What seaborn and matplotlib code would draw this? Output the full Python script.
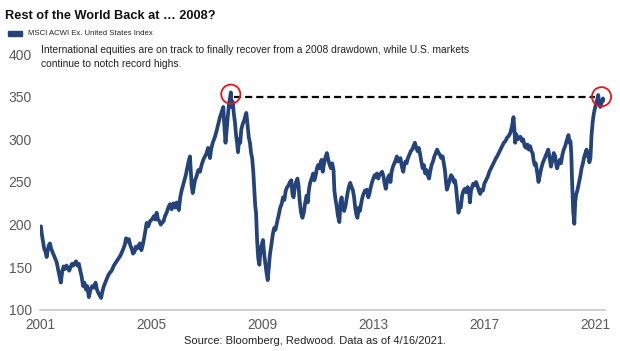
import matplotlib
matplotlib.use('Agg')
import matplotlib.pyplot as plt
import matplotlib.patches as mpatches
import seaborn as sns

# index level (decimal year, value)
years = [
    2001.00, 2001.03, 2001.07, 2001.11, 2001.15, 2001.20, 2001.24, 2001.28, 2001.32, 2001.36,
    2001.40, 2001.45, 2001.50, 2001.55, 2001.60, 2001.65, 2001.70, 2001.75, 2001.80, 2001.85,
    2001.90, 2001.95, 2002.00, 2002.05, 2002.10, 2002.15, 2002.20, 2002.25, 2002.30, 2002.35,
    2002.40, 2002.45, 2002.50, 2002.55, 2002.60, 2002.65, 2002.70, 2002.76, 2002.82, 2002.88,
    2002.94, 2003.00, 2003.05, 2003.10, 2003.15, 2003.20, 2003.25, 2003.30, 2003.35, 2003.40,
    2003.45, 2003.50, 2003.58, 2003.66, 2003.74, 2003.82, 2003.90, 2003.98, 2004.05, 2004.10,
    2004.15, 2004.20, 2004.25, 2004.30, 2004.35, 2004.40, 2004.45, 2004.50, 2004.55, 2004.60,
    2004.65, 2004.70, 2004.76, 2004.84, 2004.90, 2004.96, 2005.03, 2005.10, 2005.15, 2005.20,
    2005.25, 2005.30, 2005.35, 2005.39, 2005.45, 2005.50, 2005.56, 2005.62, 2005.68, 2005.74,
    2005.80, 2005.86, 2005.92, 2005.96, 2006.00, 2006.05, 2006.10, 2006.15, 2006.20, 2006.25,
    2006.30, 2006.35, 2006.40, 2006.43, 2006.46, 2006.50, 2006.54, 2006.58, 2006.63, 2006.70,
    2006.76, 2006.82, 2006.88, 2006.94, 2007.00, 2007.05, 2007.12, 2007.16, 2007.22, 2007.30,
    2007.36, 2007.42, 2007.48, 2007.54, 2007.60, 2007.63, 2007.68, 2007.72, 2007.76, 2007.80,
    2007.84, 2007.87, 2007.90, 2007.94, 2007.98, 2008.02, 2008.06, 2008.10, 2008.13, 2008.17,
    2008.21, 2008.25, 2008.30, 2008.35, 2008.40, 2008.43, 2008.47, 2008.52, 2008.56, 2008.60,
    2008.64, 2008.68, 2008.72, 2008.75, 2008.78, 2008.82, 2008.86, 2008.90, 2008.94, 2008.98,
    2009.03, 2009.07, 2009.11, 2009.15, 2009.20, 2009.24, 2009.28, 2009.33, 2009.38, 2009.43,
    2009.48, 2009.55, 2009.60, 2009.65, 2009.70, 2009.75, 2009.80, 2009.85, 2009.90, 2009.95,
    2010.00, 2010.05, 2010.09, 2010.13, 2010.17, 2010.22, 2010.27, 2010.31, 2010.35, 2010.40,
    2010.45, 2010.50, 2010.55, 2010.60, 2010.64, 2010.68, 2010.72, 2010.76, 2010.80, 2010.84,
    2010.88, 2010.93, 2010.97, 2011.02, 2011.06, 2011.10, 2011.14, 2011.18, 2011.22, 2011.27,
    2011.33, 2011.38, 2011.43, 2011.48, 2011.52, 2011.57, 2011.60, 2011.64, 2011.68, 2011.73,
    2011.78, 2011.82, 2011.86, 2011.90, 2011.95, 2012.00, 2012.04, 2012.08, 2012.12, 2012.17,
    2012.22, 2012.27, 2012.31, 2012.35, 2012.39, 2012.43, 2012.48, 2012.52, 2012.56, 2012.61,
    2012.65, 2012.70, 2012.74, 2012.77, 2012.82, 2012.86, 2012.91, 2012.96, 2013.00, 2013.05,
    2013.09, 2013.13, 2013.18, 2013.22, 2013.27, 2013.32, 2013.37, 2013.41, 2013.45, 2013.49,
    2013.54, 2013.58, 2013.62, 2013.66, 2013.71, 2013.76, 2013.81, 2013.85, 2013.89, 2013.94,
    2013.98, 2014.03, 2014.08, 2014.12, 2014.16, 2014.20, 2014.25, 2014.30, 2014.35, 2014.40,
    2014.45, 2014.50, 2014.55, 2014.60, 2014.64, 2014.69, 2014.73, 2014.78, 2014.82, 2014.87,
    2014.92, 2014.96, 2015.01, 2015.05, 2015.10, 2015.15, 2015.20, 2015.25, 2015.30, 2015.35,
    2015.40, 2015.45, 2015.50, 2015.54, 2015.58, 2015.62, 2015.65, 2015.70, 2015.75, 2015.80,
    2015.85, 2015.90, 2015.94, 2015.98, 2016.02, 2016.07, 2016.11, 2016.15, 2016.20, 2016.25,
    2016.30, 2016.35, 2016.40, 2016.45, 2016.48, 2016.52, 2016.56, 2016.60, 2016.65, 2016.70,
    2016.75, 2016.80, 2016.85, 2016.90, 2016.95, 2017.00, 2017.06, 2017.12, 2017.18, 2017.24,
    2017.30, 2017.36, 2017.42, 2017.46, 2017.52, 2017.58, 2017.64, 2017.70, 2017.76, 2017.82,
    2017.88, 2017.94, 2018.00, 2018.05, 2018.08, 2018.11, 2018.15, 2018.20, 2018.25, 2018.30,
    2018.35, 2018.40, 2018.45, 2018.50, 2018.55, 2018.60, 2018.65, 2018.70, 2018.74, 2018.77,
    2018.81, 2018.85, 2018.90, 2018.95, 2019.00, 2019.05, 2019.10, 2019.15, 2019.20, 2019.25,
    2019.30, 2019.35, 2019.40, 2019.45, 2019.50, 2019.55, 2019.60, 2019.62, 2019.67, 2019.72,
    2019.76, 2019.81, 2019.86, 2019.91, 2019.96, 2020.00, 2020.03, 2020.07, 2020.10, 2020.13,
    2020.16, 2020.20, 2020.24, 2020.27, 2020.31, 2020.35, 2020.40, 2020.45, 2020.50, 2020.55,
    2020.60, 2020.64, 2020.68, 2020.72, 2020.75, 2020.78, 2020.82, 2020.86, 2020.90, 2020.94,
    2020.98, 2021.02, 2021.06, 2021.10, 2021.13, 2021.17, 2021.21, 2021.24, 2021.27, 2021.29,
]
values = [
    192, 198, 188, 180, 172, 168, 162, 170, 176, 178,
    172, 168, 164, 160, 156, 148, 140, 132, 145, 151,
    148, 152, 150, 146, 150, 154, 152, 155, 157, 152,
    154, 146, 139, 128, 132, 124, 128, 115, 124, 128,
    126, 132, 124, 120, 117, 114, 122, 128, 132, 136,
    140, 143, 146, 152, 156, 160, 164, 170, 176, 184,
    180, 183, 176, 172, 166, 168, 174, 172, 176, 178,
    170, 176, 186, 202, 198, 204, 206, 210, 206, 214,
    206, 204, 200, 202, 204, 210, 214, 220, 224, 218,
    225, 220, 226, 222, 217, 232, 240, 246, 252, 258,
    266, 274, 280, 262, 246, 237, 244, 252, 256, 264,
    262, 270, 276, 280, 284, 290, 278, 288, 296, 303,
    310, 318, 326, 332, 338, 320, 296, 310, 326, 340,
    348, 355, 338, 344, 330, 320, 305, 295, 285, 300,
    296, 312, 318, 322, 328, 331, 318, 302, 296, 284,
    278, 262, 240, 222, 214, 180, 160, 153, 170, 176,
    182, 166, 156, 145, 135, 150, 165, 176, 188, 196,
    194, 205, 212, 220, 224, 232, 229, 240, 244, 246,
    250, 252, 236, 232, 242, 250, 254, 246, 228, 214,
    208, 214, 226, 234, 226, 240, 248, 252, 256, 260,
    252, 258, 266, 270, 266, 272, 276, 262, 270, 278,
    284, 276, 270, 266, 272, 264, 240, 230, 222, 210,
    203, 226, 232, 220, 216, 222, 230, 238, 244, 249,
    244, 240, 232, 220, 212, 208, 220, 216, 224, 232,
    236, 240, 238, 241, 232, 236, 244, 250, 254, 258,
    256, 260, 254, 258, 260, 262, 256, 248, 242, 249,
    256, 258, 250, 262, 268, 272, 276, 280, 274, 276,
    278, 268, 262, 270, 274, 272, 278, 282, 286, 288,
    292, 296, 290, 286, 290, 282, 274, 266, 270, 260,
    264, 258, 254, 262, 270, 274, 280, 284, 288, 284,
    282, 278, 280, 272, 264, 250, 241, 246, 252, 258,
    256, 250, 252, 244, 230, 214, 222, 220, 234, 240,
    242, 238, 244, 240, 226, 240, 244, 248, 246, 250,
    246, 240, 236, 241, 240, 248, 252, 256, 262, 266,
    270, 274, 278, 280, 284, 288, 292, 296, 298, 302,
    304, 308, 316, 326, 312, 296, 306, 300, 302, 303,
    298, 300, 292, 290, 294, 288, 292, 286, 284, 276,
    270, 272, 262, 250, 258, 266, 272, 276, 280, 284,
    288, 278, 268, 276, 284, 280, 268, 266, 272, 276,
    272, 282, 288, 292, 298, 302, 305, 296, 298, 284,
    250, 215, 201, 226, 236, 240, 248, 256, 266, 272,
    280, 284, 288, 280, 284, 273, 278, 305, 320, 330,
    336, 342, 346, 352, 344, 338, 342, 344, 348, 346,
]

x_ticks = [2001, 2005, 2009, 2013, 2017, 2021]
y_ticks = [100, 150, 200, 250, 300, 350, 400]

prior_peak = (2007.87, 355)
recent_high = (2021.22, 350)
peak_level = 350

navy = '#23437a'
grey = '#5a5a5a'

sns.set_theme(style='white')
plt.rcParams['font.family'] = ['Liberation Sans', 'DejaVu Sans']

fig = plt.figure(figsize=(6.2, 3.51), dpi=100)
ax = fig.add_axes([0.0645, 0.117, 0.912, 0.729])

sns.lineplot(x=years, y=values, ax=ax, color=navy, linewidth=2.7)

# dashed line back to the 2007 high + red circles
ax.plot([prior_peak[0] + 0.1, 2021.0], [peak_level, peak_level],
        color='black', linewidth=1.6, linestyle=(0, (3.2, 1.8)))
ax.scatter([prior_peak[0], recent_high[0]], [prior_peak[1] - 2, recent_high[1]],
           s=190, facecolors='none', edgecolors='#e8141c', linewidths=1.3, zorder=5,
           clip_on=False)

ax.set_xlim(2001, 2021.36)
ax.set_ylim(100, 400)
ax.set_xticks(x_ticks)
ax.set_yticks(y_ticks)
ax.set_xticklabels([str(t) for t in x_ticks], fontsize=9.8, color=grey)
ax.set_yticklabels([str(t) for t in y_ticks], fontsize=10, color=grey)

for side in ['top', 'right', 'left']:
    ax.spines[side].set_visible(False)
ax.spines['bottom'].set_color('#c8c8c8')
ax.spines['bottom'].set_linewidth(1.2)
ax.tick_params(axis='x', direction='in', length=4, width=1, color='#c8c8c8', pad=6)
ax.tick_params(axis='y', length=0, pad=6)
ax.set_xlabel('')
ax.set_ylabel('')

fig.text(0.008, 0.955, 'Rest of the World Back at \u2026 2008?', fontsize=9.2,
         fontweight='bold', color='#111111', va='center', ha='left')
fig.patches.append(mpatches.Rectangle((0.013, 0.898), 0.023, 0.013, transform=fig.transFigure,
                                      color=navy))
fig.text(0.045, 0.905, 'MSCI ACWI Ex. United States Index', fontsize=5.6, color='#222222',
         va='center', ha='left')
fig.text(0.066, 0.872, 'International equities are on track to finally recover from a 2008 drawdown, '
         'while U.S. markets\ncontinue to notch record highs.', fontsize=7.4, color='#222222',
         va='top', ha='left', linespacing=1.55)
fig.text(0.508, 0.028, 'Source: Bloomberg, Redwood. Data as of 4/16/2021.', fontsize=8,
         color='#222222', va='center', ha='center')

fig.savefig('out.png', dpi=100)
